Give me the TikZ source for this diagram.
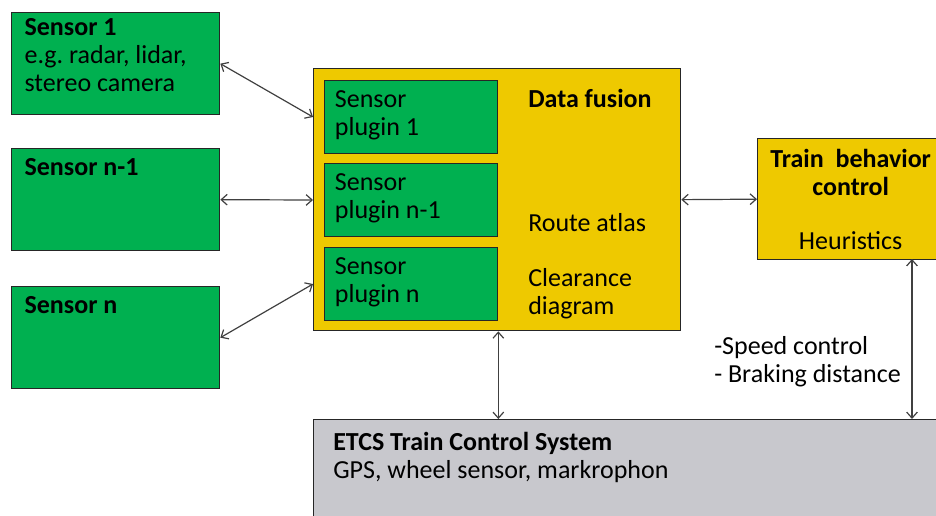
\documentclass[tikz,border=0pt]{standalone}
\usepackage{fontspec}
\setmainfont{Carlito}
\usetikzlibrary{positioning}
\usetikzlibrary{arrows.meta}

\definecolor{sensorgreen}{RGB}{0,176,80}
\definecolor{fusionyellow}{RGB}{238,201,0}
\definecolor{etcsgray}{RGB}{200,200,205}

\begin{document}
\begin{tikzpicture}[x=0.75pt, y=-0.75pt,
    box/.style={draw=black!85, line width=1pt, anchor=north west, inner sep=0pt},
    sensorbox/.style={box, fill=sensorgreen, minimum width=156pt, minimum height=76.5pt},
    pluginbox/.style={box, fill=sensorgreen, minimum width=129.75pt, minimum height=54.5pt},
    txt/.style={inner sep=0pt, align=left, font=\fontsize{19.5}{21}\selectfont},
    link/.style={draw=black!75, line width=0.9pt, {Straight Barb[length=4.5pt,width=8pt]}-{Straight Barb[length=4.5pt,width=8pt]}}]
    \useasboundingbox (0,0) rectangle (936,515);
    \clip (0,0) rectangle (936,515);

    % sensors
    \node[sensorbox] (s1) at (11,12) {};
    \node[sensorbox] (sn1) at (11,148) {};
    \node[sensorbox] (sn) at (11,286) {};
    \node[txt, below right=4.5pt and 10pt of s1.north west] (s1t) {\textbf{Sensor 1}\\e.g.\ radar,\ lidar,\\stereo camera};
    \node[txt, below right=8pt and 10pt of sn1.north west] (sn1t) {\textbf{Sensor n-1}};
    \node[txt, below right=8pt and 10pt of sn.north west] (snt) {\textbf{Sensor n}};

    % data fusion with plugins
    \node[box, fill=fusionyellow, minimum width=275.25pt, minimum height=196.5pt] (fusion) at (313,68) {};
    \node[pluginbox] (p1) at (324,80) {};
    \node[pluginbox] (p2) at (324,163) {};
    \node[pluginbox] (p3) at (324,247) {};
    \node[txt, below right=8pt and 8pt of p1.north west] (p1t) {Sensor\\plugin 1};
    \node[txt, below right=8pt and 8pt of p2.north west] (p2t) {Sensor\\plugin n-1};
    \node[txt, below right=8pt and 8pt of p3.north west] (p3t) {Sensor\\plugin n};
    \node[txt, anchor=north west] (fuse) at (528,89) {\textbf{Data fusion}};
    \node[txt, anchor=north west] (atlas) at (528,213) {Route atlas};
    \node[txt, anchor=north west] (clear) at (528,268) {Clearance\\diagram};

    % train behavior
    \node[box, fill=fusionyellow, minimum width=142.5pt, minimum height=90.75pt] (train) at (757,138) {};
    \node[txt, align=center, below=8pt of train.north, xshift=-1.5pt] (traint) {\textbf{Train\ \ behavior}\\\textbf{control}};
    \node[txt, below=27pt of traint] (heur) {Heuristics};

    % ETCS
    \node[box, fill=etcsgray, minimum width=480pt, minimum height=82.5pt] (etcs) at (313,419) {};
    \node[txt, below right=9.5pt and 15pt of etcs.north west] (etcst) {\textbf{ETCS Train Control System}\\GPS, wheel sensor, markrophon};

    \node[txt, anchor=north west] (brk) at (714,336) {-Speed control\\- Braking distance};

    % connections
    \draw[link] (s1.east) -- (fusion.west |- p1.west);
    \draw[link] (sn1.east) -- (fusion.west |- p2.west);
    \draw[link] (sn.east) -- (fusion.west |- p3.west);
    \draw[link] (fusion.east) -- (train.west);
    \draw[link] (p3.east |- fusion.south) -- (p3.east |- etcs.north);
    \coordinate (tb) at (912,259);
    \draw[link] (tb) -- (tb |- etcs.north);
\end{tikzpicture}
\end{document}
